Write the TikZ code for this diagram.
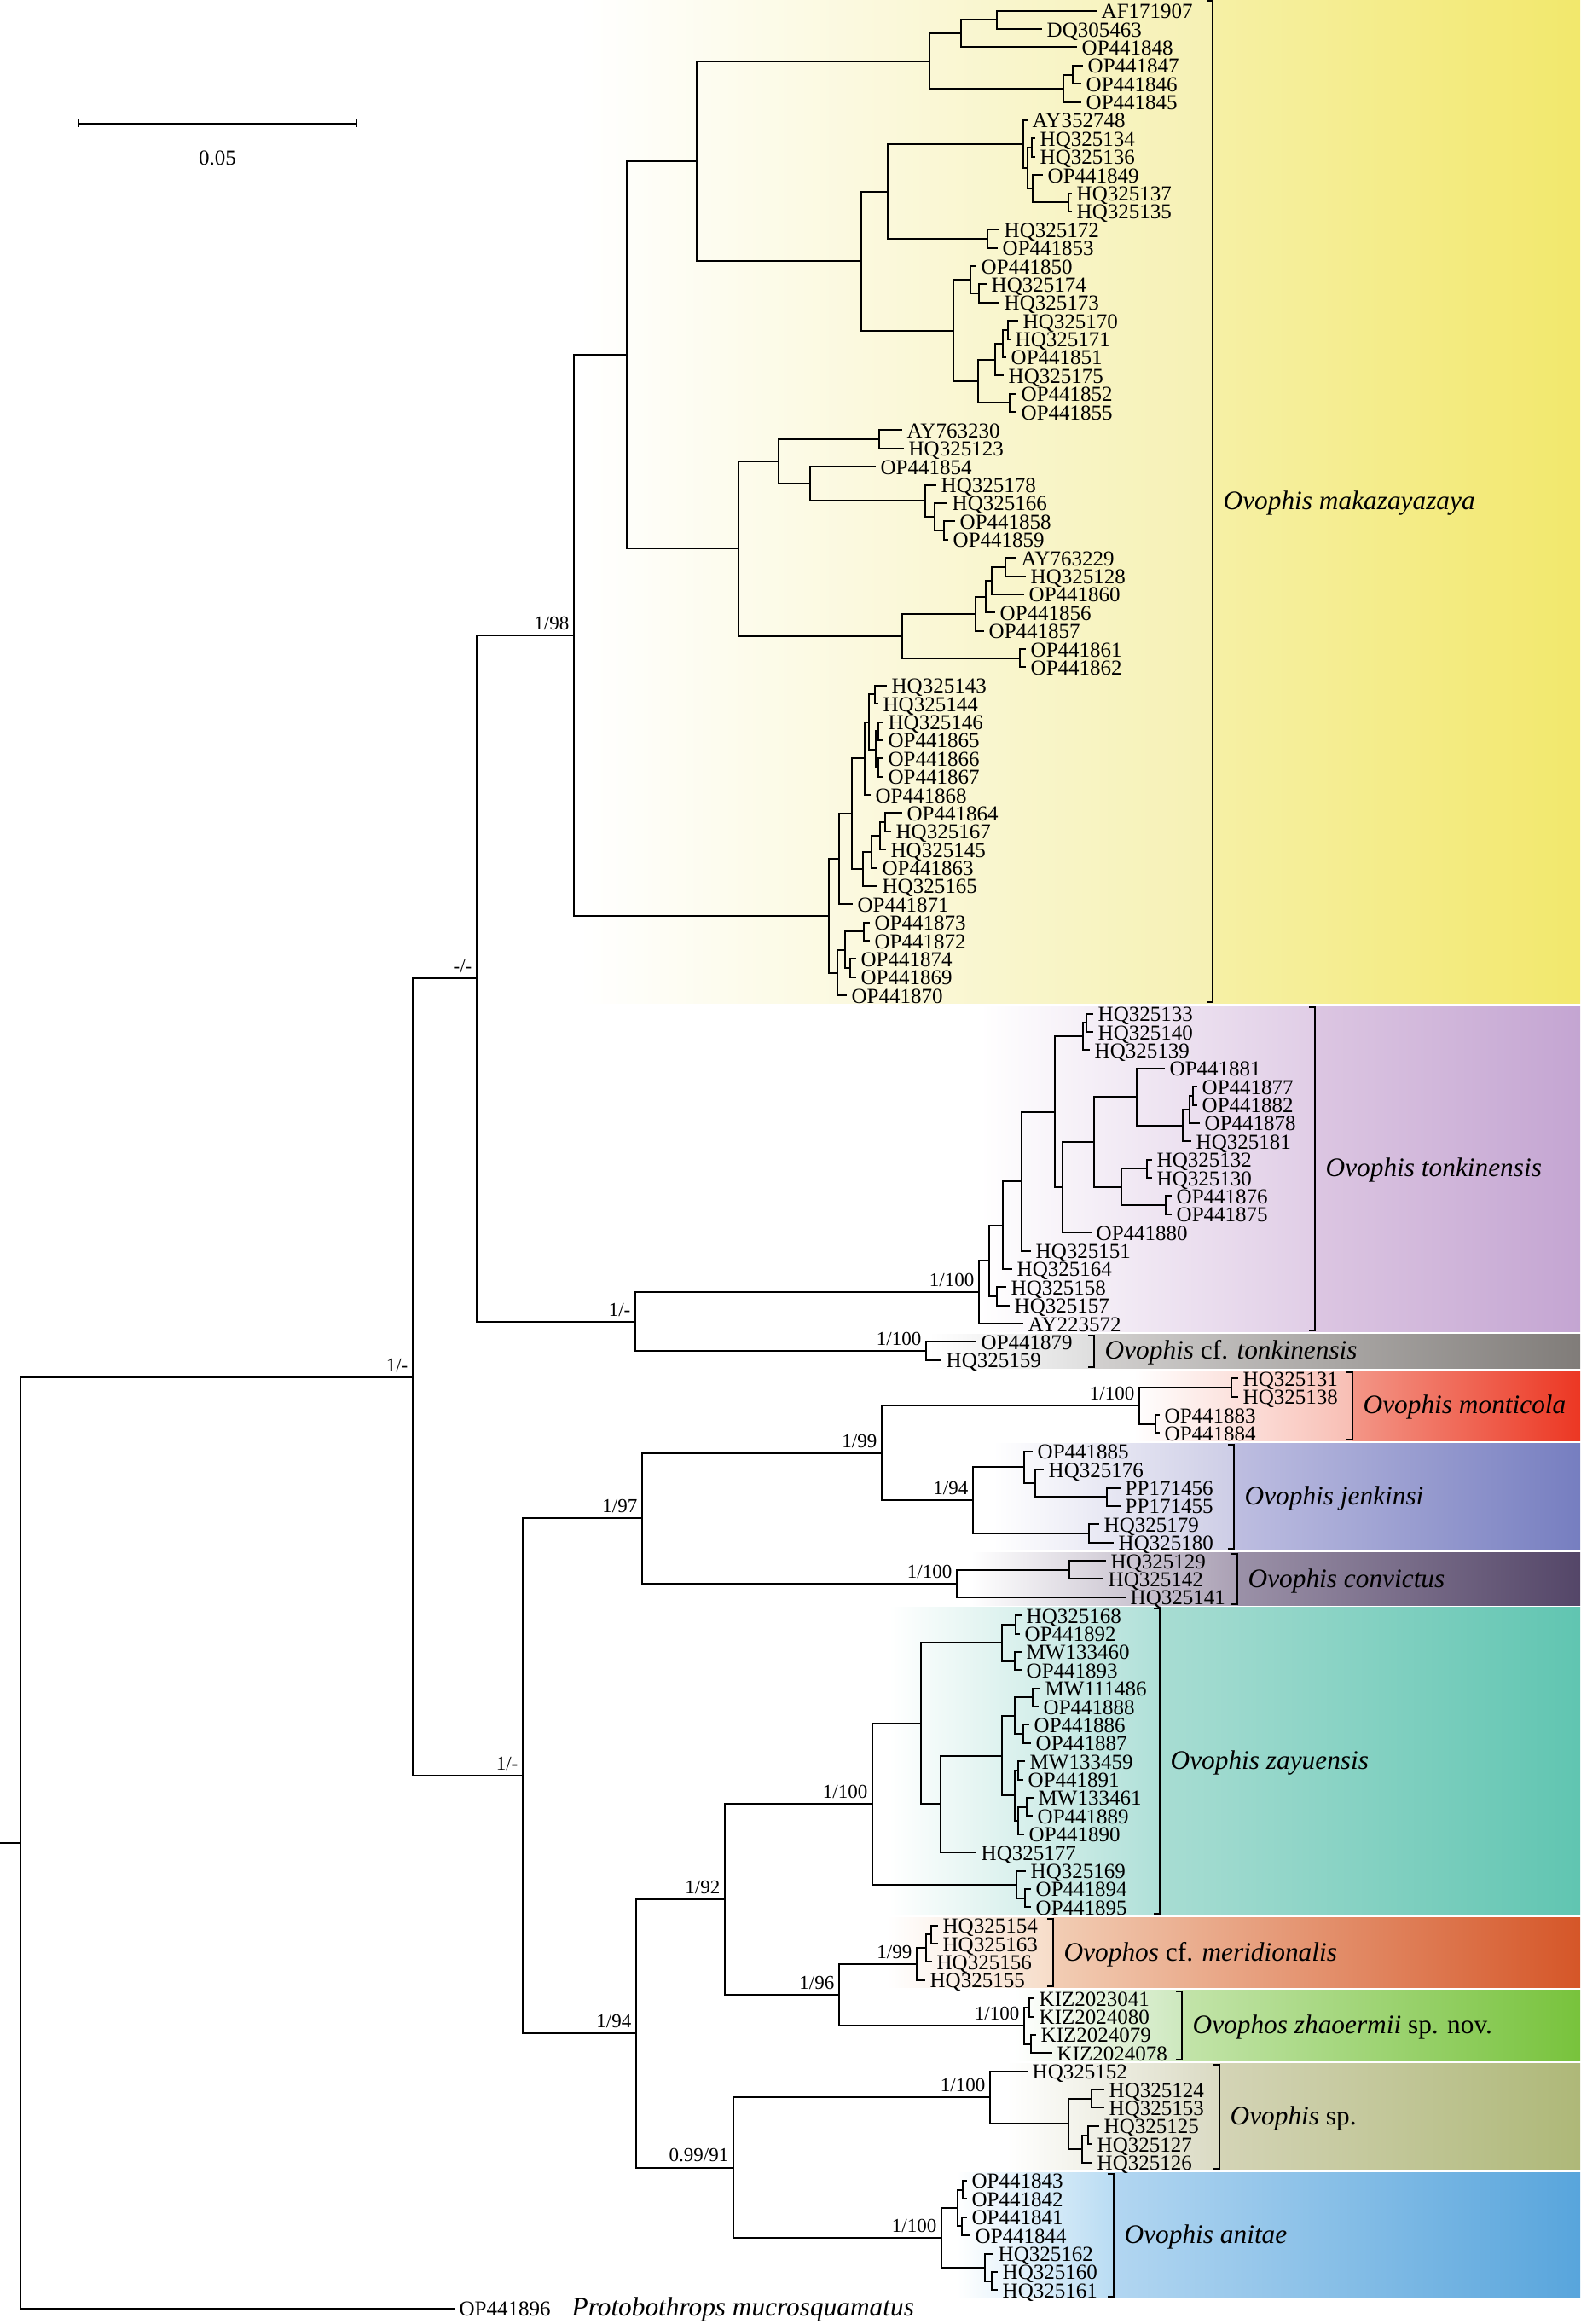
\documentclass[tikz,border=0pt]{standalone}
\usepackage{fontspec}
\setmainfont{Liberation Serif}
\definecolor{yelA}{RGB}{246,241,180}\definecolor{yelB}{RGB}{246,240,165}\definecolor{yelC}{RGB}{242,232,108}
\definecolor{purA}{RGB}{224,205,230}\definecolor{purB}{RGB}{220,198,226}\definecolor{purC}{RGB}{196,165,210}
\definecolor{gryA}{RGB}{222,222,222}\definecolor{gryB}{RGB}{210,208,207}\definecolor{gryC}{RGB}{128,124,121}
\definecolor{redA}{RGB}{248,190,180}\definecolor{redB}{RGB}{243,150,135}\definecolor{redC}{RGB}{236,55,35}
\definecolor{jenA}{RGB}{205,205,230}\definecolor{jenB}{RGB}{190,190,225}\definecolor{jenC}{RGB}{118,126,192}
\definecolor{cvA}{RGB}{170,160,180}\definecolor{cvB}{RGB}{155,145,168}\definecolor{cvC}{RGB}{84,70,104}
\definecolor{zaA}{RGB}{175,224,216}\definecolor{zaB}{RGB}{168,221,211}\definecolor{zaC}{RGB}{96,197,177}
\definecolor{meA}{RGB}{246,220,200}\definecolor{meB}{RGB}{242,205,180}\definecolor{meC}{RGB}{213,86,40}
\definecolor{zhA}{RGB}{205,232,190}\definecolor{zhB}{RGB}{195,228,170}\definecolor{zhC}{RGB}{120,195,60}
\definecolor{spA}{RGB}{218,218,195}\definecolor{spB}{RGB}{212,212,182}\definecolor{spC}{RGB}{174,184,120}
\definecolor{anA}{RGB}{185,220,243}\definecolor{anB}{RGB}{178,214,241}\definecolor{anC}{RGB}{88,165,220}
\newcommand\Tp[3]{\coordinate (t#1) at (#2,#1); \node[tl] (l#1) at (t#1) {#3};}
\newcommand\Nd[3]{\coordinate (#1) at (#2,#3);}
\newcommand\Br[2]{\foreach \kid in {#2}{\draw[br] (#1) |- (\kid);}}
\newcommand\Sp[2]{\node[sup] (s#1) at (#1) {#2};}
\newcommand\Band[9]{%
  \shade[left color=white, right color=#5] (#1,{#3+0.07}) rectangle (#2,{#4-0.07});
  \shade[left color=#6, right color=#7] (#2,{#3+0.07}) rectangle (1853,{#4-0.07});
  \draw[br] ({#2-7},{#3+0.14}) -- (#2,{#3+0.14}) -- (#2,{#4-0.14}) -- ({#2-7},{#4-0.14});
  \node[cl] (c#9) at ({#2+12},{(#3+#4)/2+0.45}) {#8};}
\begin{document}
\begin{tikzpicture}[x=0.3pt,y=-6.414pt,
  br/.style={line width=0.6pt},
  tl/.style={anchor=base west, inner sep=0pt, xshift=1.5pt, yshift=-2.7pt, font=\fontsize{7.5}{9}\selectfont},
  sup/.style={anchor=base east, inner sep=0pt, xshift=-1.5pt, yshift=2pt, font=\fontsize{6.9}{8}\selectfont},
  cl/.style={anchor=base west, inner sep=0pt, font=\fontsize{9.4}{11}\selectfont}]
\useasboundingbox (0,0.406) rectangle (1853,127.86);
% ---------- coloured bands ----------
\Band{680}{1422}{0.3}{55.5}{yelA}{yelB}{yelC}{\itshape Ovophis makazayazaya}{1}
\Band{1150}{1542}{55.5}{73.5}{purA}{purB}{purC}{\itshape Ovophis tonkinensis}{2}
\Band{1090}{1283}{73.5}{75.5}{gryA}{gryB}{gryC}{\textit{Ovophis} cf. \textit{tonkinensis}}{3}
\Band{1330}{1586}{75.5}{79.5}{redA}{redB}{redC}{\itshape Ovophis monticola}{4}
\Band{1165}{1447}{79.5}{85.5}{jenA}{jenB}{jenC}{\itshape Ovophis jenkinsi}{5}
\Band{1139}{1451}{85.5}{88.5}{cvA}{cvB}{cvC}{\itshape Ovophis convictus}{6}
\Band{1043}{1360}{88.5}{105.5}{zaA}{zaB}{zaC}{\itshape Ovophis zayuensis}{7}
\Band{1040}{1235}{105.5}{109.5}{meA}{meB}{meC}{\textit{Ovophos} cf. \textit{meridionalis}}{8}
\Band{1190}{1386}{109.5}{113.5}{zhA}{zhB}{zhC}{\textit{Ovophos zhaoermii} sp. nov.}{9}
\Band{1180}{1430}{113.5}{119.5}{spA}{spB}{spC}{\textit{Ovophis} sp.}{10}
\Band{1122}{1306}{119.5}{126.5}{anA}{anB}{anC}{\itshape Ovophis anitae}{11}
% ---------- scale bar ----------
\coordinate (sb1) at (92,7.17); \coordinate (sb2) at (418,7.17);
\draw[br] (sb1) -- (sb2);
\draw[br] ([yshift=-1.3pt]sb1) -- ([yshift=1.3pt]sb1);
\draw[br] ([yshift=-1.3pt]sb2) -- ([yshift=1.3pt]sb2);
\node[font=\fontsize{7.5}{9}\selectfont, inner sep=0pt] (sbl) at (255,9.06) {0.05};
% ---------- tips ----------
\Tp{1}{1286}{AF171907}\Tp{2}{1222}{DQ305463}\Tp{3}{1263}{OP441848}\Tp{4}{1270}{OP441847}
\Tp{5}{1268}{OP441846}\Tp{6}{1268}{OP441845}\Tp{7}{1205}{AY352748}\Tp{8}{1214}{HQ325134}
\Tp{9}{1214}{HQ325136}\Tp{10}{1223}{OP441849}\Tp{11}{1257}{HQ325137}\Tp{12}{1257}{HQ325135}
\Tp{13}{1172}{HQ325172}\Tp{14}{1170}{OP441853}\Tp{15}{1145}{OP441850}\Tp{16}{1157}{HQ325174}
\Tp{17}{1172}{HQ325173}\Tp{18}{1194}{HQ325170}\Tp{19}{1185}{HQ325171}\Tp{20}{1180}{OP441851}
\Tp{21}{1177}{HQ325175}\Tp{22}{1192}{OP441852}\Tp{23}{1192}{OP441855}\Tp{24}{1058}{AY763230}
\Tp{25}{1060}{HQ325123}\Tp{26}{1027}{OP441854}\Tp{27}{1098}{HQ325178}\Tp{28}{1111}{HQ325166}
\Tp{29}{1120}{OP441858}\Tp{30}{1112}{OP441859}\Tp{31}{1192}{AY763229}\Tp{32}{1203}{HQ325128}
\Tp{33}{1201}{OP441860}\Tp{34}{1167}{OP441856}\Tp{35}{1154}{OP441857}\Tp{36}{1203}{OP441861}
\Tp{37}{1203}{OP441862}\Tp{38}{1040}{HQ325143}\Tp{39}{1030}{HQ325144}\Tp{40}{1036}{HQ325146}
\Tp{41}{1036}{OP441865}\Tp{42}{1036}{OP441866}\Tp{43}{1036}{OP441867}\Tp{44}{1021}{OP441868}
\Tp{45}{1058}{OP441864}\Tp{46}{1045}{HQ325167}\Tp{47}{1039}{HQ325145}\Tp{48}{1029}{OP441863}
\Tp{49}{1029}{HQ325165}\Tp{50}{1000}{OP441871}\Tp{51}{1020}{OP441873}\Tp{52}{1020}{OP441872}
\Tp{53}{1004}{OP441874}\Tp{54}{1004}{OP441869}\Tp{55}{993}{OP441870}
\Tp{56}{1282}{HQ325133}\Tp{57}{1282}{HQ325140}\Tp{58}{1278}{HQ325139}\Tp{59}{1366}{OP441881}
\Tp{60}{1404}{OP441877}\Tp{61}{1404}{OP441882}\Tp{62}{1407}{OP441878}\Tp{63}{1397}{HQ325181}
\Tp{64}{1351}{HQ325132}\Tp{65}{1351}{HQ325130}\Tp{66}{1374}{OP441876}\Tp{67}{1374}{OP441875}
\Tp{68}{1280}{OP441880}\Tp{69}{1209}{HQ325151}\Tp{70}{1187}{HQ325164}\Tp{71}{1180}{HQ325158}
\Tp{72}{1184}{HQ325157}\Tp{73}{1200}{AY223572}
\Tp{74}{1145}{OP441879}\Tp{75}{1104}{HQ325159}
\Tp{76}{1452}{HQ325131}\Tp{77}{1452}{HQ325138}\Tp{78}{1360}{OP441883}\Tp{79}{1360}{OP441884}
\Tp{80}{1211}{OP441885}\Tp{81}{1224}{HQ325176}\Tp{82}{1314}{PP171456}\Tp{83}{1314}{PP171455}
\Tp{84}{1289}{HQ325179}\Tp{85}{1306}{HQ325180}
\Tp{86}{1297}{HQ325129}\Tp{87}{1294}{HQ325142}\Tp{88}{1320}{HQ325141}
\Tp{89}{1198}{HQ325168}\Tp{90}{1196}{OP441892}\Tp{91}{1198}{MW133460}\Tp{92}{1198}{OP441893}
\Tp{93}{1220}{MW111486}\Tp{94}{1218}{OP441888}\Tp{95}{1207}{OP441886}\Tp{96}{1209}{OP441887}
\Tp{97}{1202}{MW133459}\Tp{98}{1200}{OP441891}\Tp{99}{1212}{MW133461}\Tp{100}{1211}{OP441889}
\Tp{101}{1201}{OP441890}\Tp{102}{1145}{HQ325177}\Tp{103}{1203}{HQ325169}\Tp{104}{1209}{OP441894}
\Tp{105}{1209}{OP441895}
\Tp{106}{1100}{HQ325154}\Tp{107}{1100}{HQ325163}\Tp{108}{1093}{HQ325156}\Tp{109}{1085}{HQ325155}
\Tp{110}{1213}{KIZ2023041}\Tp{111}{1213}{KIZ2024080}\Tp{112}{1215}{KIZ2024079}\Tp{113}{1234}{KIZ2024078}
\Tp{114}{1205}{HQ325152}\Tp{115}{1295}{HQ325124}\Tp{116}{1295}{HQ325153}\Tp{117}{1289}{HQ325125}
\Tp{118}{1281}{HQ325127}\Tp{119}{1281}{HQ325126}
\Tp{120}{1134}{OP441843}\Tp{121}{1134}{OP441842}\Tp{122}{1134}{OP441841}\Tp{123}{1138}{OP441844}
\Tp{124}{1165}{HQ325162}\Tp{125}{1170}{HQ325160}\Tp{126}{1170}{HQ325161}
\Tp{127}{533}{OP441896}
\node[tl, font=\fontsize{9.4}{11}\selectfont\itshape, xshift=0pt] (proto) at (665,127) {Protobothrops mucrosquamatus};
% ---------- internal nodes ----------
\Nd{R0}{0}{101.47}\Nd{R}{24}{101.47}\Nd{A1}{484}{75.93}\Nd{B1}{559}{54.07}\Nd{C1}{673}{35.25}
\Nd{M}{735}{19.87}\Nd{N1}{817}{9.235}
\Nd{a}{1090}{3.75}\Nd{a1}{1127}{2.25}\Nd{a11}{1169}{1.5}\Nd{a2}{1247}{5.25}\Nd{a21}{1258}{4.5}
\Nd{b}{1010}{14.72}\Nd{b1}{1041}{10.906}\Nd{b1a}{1200}{8.3125}\Nd{b1a2}{1205}{9.625}
\Nd{b89}{1210}{8.5}\Nd{b10}{1211}{10.75}\Nd{b1112}{1253}{11.5}\Nd{b1b}{1158}{13.5}
\Nd{b2}{1118}{18.53}\Nd{b2a}{1138}{15.75}\Nd{b1617}{1148}{16.5}\Nd{b2b}{1147}{21.3125}
\Nd{b2b1}{1167}{20.125}\Nd{b1820}{1176}{19.25}\Nd{b1819}{1182}{18.5}\Nd{b2223}{1184}{22.5}
\Nd{N2}{866}{30.5}\Nd{N2a}{913}{25.72}\Nd{c2425}{1031}{24.5}\Nd{N2a2}{950}{26.94}
\Nd{c2730}{1085}{27.875}\Nd{c2830}{1096}{28.75}\Nd{c2930}{1107}{29.5}
\Nd{N2b}{1058}{35.28}\Nd{c3135}{1144}{34.06}\Nd{c3134}{1156}{33.125}\Nd{c3133}{1163}{32.25}
\Nd{c3132}{1179}{31.5}\Nd{c3637}{1196}{36.5}
\Nd{N3}{972}{50.63}\Nd{N3a}{984}{47.52}\Nd{N3b}{999}{45.03}\Nd{N3c}{1014}{42}\Nd{N3d}{1019}{40}
\Nd{d3839}{1026}{38.5}\Nd{d4043}{1027}{41.5}\Nd{d4041}{1030}{40.5}\Nd{d4243}{1030}{42.5}
\Nd{N3e}{1012}{48.06}\Nd{e4548}{1022}{47.125}\Nd{e4547}{1032}{46.25}\Nd{e4546}{1038}{45.5}
\Nd{N3f}{982}{53.75}\Nd{N3g}{991}{52.5}\Nd{f5152}{1013}{51.5}\Nd{f5354}{997}{53.5}
\Nd{C2}{745}{72.89}\Nd{T0}{1148}{71.27}\Nd{T1}{1160}{69.55}\Nd{g7172}{1169}{71.5}
\Nd{T2}{1176}{67.6}\Nd{T3}{1198}{65.19}\Nd{T4}{1237}{61.38}\Nd{g5658}{1270}{57.25}
\Nd{g5657}{1274}{56.5}\Nd{T5}{1246}{65.52}\Nd{T6}{1283}{63.03}\Nd{T7}{1333}{60.56}
\Nd{g6063}{1387}{62.125}\Nd{g6062}{1395}{61.25}\Nd{g6061}{1399}{60.5}
\Nd{T8}{1315}{65.5}\Nd{g6465}{1345}{64.5}\Nd{g6667}{1367}{66.5}\Nd{cf}{1086}{74.5}
\Nd{L1}{613}{97.8}\Nd{P97}{753}{83.67}\Nd{P99}{1034}{80.09}
\Nd{mo}{1336}{77.5}\Nd{h7677}{1444}{76.5}\Nd{h7879}{1355}{78.5}
\Nd{je}{1141}{82.69}\Nd{j8083}{1201}{80.875}\Nd{j8183}{1214}{81.75}\Nd{j8283}{1298}{82.5}\Nd{j8485}{1277}{84.5}
\Nd{cv}{1122}{87.25}\Nd{k8687}{1254}{86.5}
\Nd{P94}{746}{111.93}\Nd{P92}{850}{104.57}
\Nd{zy}{1023}{99.33}\Nd{Z1}{1080}{94.92}\Nd{z8992}{1175}{90.5}\Nd{z8990}{1191}{89.5}\Nd{z9192}{1190}{91.5}
\Nd{Z2}{1103}{99.34}\Nd{Z3}{1175}{96.69}\Nd{z9396}{1190}{94.5}\Nd{z9394}{1211}{93.5}\Nd{z9596}{1200}{95.5}
\Nd{z97101}{1190}{98.875}\Nd{z9798}{1194}{97.5}\Nd{z99101}{1194}{100.25}\Nd{z99100}{1204}{99.5}
\Nd{z103}{1192}{103.75}\Nd{z104105}{1202}{104.5}
\Nd{P96}{984}{109.81}\Nd{me}{1075}{108.125}\Nd{m106108}{1086}{107.25}\Nd{m106107}{1092}{106.5}
\Nd{zh}{1201}{111.5}\Nd{n110111}{1207}{110.5}\Nd{n112113}{1209}{112.5}
\Nd{P9991}{860}{119.28}\Nd{sp}{1161}{115.44}\Nd{s115119}{1253}{116.875}\Nd{s115116}{1280}{115.5}
\Nd{s117119}{1269}{118.25}\Nd{s117118}{1276}{117.5}
\Nd{an}{1104}{123.125}\Nd{a120123}{1123}{121.5}\Nd{a120121}{1129}{120.5}\Nd{a122123}{1128}{122.5}
\Nd{a124126}{1155}{124.75}\Nd{a125126}{1163}{125.5}
% ---------- branches ----------
\draw[br] (R0) -- (R);
\Br{R}{A1,t127}\Br{A1}{B1,L1}\Br{B1}{C1,C2}\Br{C1}{M,N3}\Br{M}{N1,N2}\Br{N1}{a,b}
\Br{a}{a1,a2}\Br{a1}{a11,t3}\Br{a11}{t1,t2}\Br{a2}{a21,t6}\Br{a21}{t4,t5}
\Br{b}{b1,b2}\Br{b1}{b1a,b1b}\Br{b1a}{t7,b1a2}\Br{b1a2}{b89,b10}\Br{b89}{t8,t9}\Br{b10}{t10,b1112}
\Br{b1112}{t11,t12}\Br{b1b}{t13,t14}\Br{b2}{b2a,b2b}\Br{b2a}{t15,b1617}\Br{b1617}{t16,t17}
\Br{b2b}{b2b1,b2223}\Br{b2b1}{b1820,t21}\Br{b1820}{b1819,t20}\Br{b1819}{t18,t19}\Br{b2223}{t22,t23}
\Br{N2}{N2a,N2b}\Br{N2a}{c2425,N2a2}\Br{c2425}{t24,t25}\Br{N2a2}{t26,c2730}\Br{c2730}{t27,c2830}
\Br{c2830}{t28,c2930}\Br{c2930}{t29,t30}\Br{N2b}{c3135,c3637}\Br{c3135}{c3134,t35}\Br{c3134}{c3133,t34}
\Br{c3133}{c3132,t33}\Br{c3132}{t31,t32}\Br{c3637}{t36,t37}
\Br{N3}{N3a,N3f}\Br{N3a}{N3b,t50}\Br{N3b}{N3c,N3e}\Br{N3c}{N3d,t44}\Br{N3d}{d3839,d4043}
\Br{d3839}{t38,t39}\Br{d4043}{d4041,d4243}\Br{d4041}{t40,t41}\Br{d4243}{t42,t43}
\Br{N3e}{e4548,t49}\Br{e4548}{e4547,t48}\Br{e4547}{e4546,t47}\Br{e4546}{t45,t46}
\Br{N3f}{N3g,t55}\Br{N3g}{f5152,f5354}\Br{f5152}{t51,t52}\Br{f5354}{t53,t54}
\Br{C2}{T0,cf}\Br{T0}{T1,t73}\Br{T1}{T2,g7172}\Br{g7172}{t71,t72}\Br{T2}{T3,t70}\Br{T3}{T4,t69}
\Br{T4}{g5658,T5}\Br{g5658}{g5657,t58}\Br{g5657}{t56,t57}\Br{T5}{T6,t68}\Br{T6}{T7,T8}
\Br{T7}{t59,g6063}\Br{g6063}{g6062,t63}\Br{g6062}{g6061,t62}\Br{g6061}{t60,t61}
\Br{T8}{g6465,g6667}\Br{g6465}{t64,t65}\Br{g6667}{t66,t67}\Br{cf}{t74,t75}
\Br{L1}{P97,P94}\Br{P97}{P99,cv}\Br{P99}{mo,je}\Br{mo}{h7677,h7879}\Br{h7677}{t76,t77}\Br{h7879}{t78,t79}
\Br{je}{j8083,j8485}\Br{j8083}{t80,j8183}\Br{j8183}{t81,j8283}\Br{j8283}{t82,t83}\Br{j8485}{t84,t85}
\Br{cv}{k8687,t88}\Br{k8687}{t86,t87}
\Br{P94}{P92,P9991}\Br{P92}{zy,P96}\Br{zy}{Z1,z103}\Br{Z1}{z8992,Z2}\Br{z8992}{z8990,z9192}
\Br{z8990}{t89,t90}\Br{z9192}{t91,t92}\Br{Z2}{Z3,t102}\Br{Z3}{z9396,z97101}\Br{z9396}{z9394,z9596}
\Br{z9394}{t93,t94}\Br{z9596}{t95,t96}\Br{z97101}{z9798,z99101}\Br{z9798}{t97,t98}
\Br{z99101}{z99100,t101}\Br{z99100}{t99,t100}\Br{z103}{t103,z104105}\Br{z104105}{t104,t105}
\Br{P96}{me,zh}\Br{me}{m106108,t109}\Br{m106108}{m106107,t108}\Br{m106107}{t106,t107}
\Br{zh}{n110111,n112113}\Br{n110111}{t110,t111}\Br{n112113}{t112,t113}
\Br{P9991}{sp,an}\Br{sp}{t114,s115119}\Br{s115119}{s115116,s117119}\Br{s115116}{t115,t116}
\Br{s117119}{s117118,t119}\Br{s117118}{t117,t118}
\Br{an}{a120123,a124126}\Br{a120123}{a120121,a122123}\Br{a120121}{t120,t121}\Br{a122123}{t122,t123}
\Br{a124126}{t124,a125126}\Br{a125126}{t125,t126}
% ---------- support values ----------
\Sp{A1}{1/-}\Sp{B1}{-/-}\Sp{C1}{1/98}\Sp{C2}{1/-}\Sp{T0}{1/100}\Sp{cf}{1/100}
\Sp{L1}{1/-}\Sp{P97}{1/97}\Sp{P99}{1/99}\Sp{mo}{1/100}\Sp{je}{1/94}\Sp{cv}{1/100}
\Sp{P94}{1/94}\Sp{P92}{1/92}\Sp{zy}{1/100}\Sp{P96}{1/96}\Sp{me}{1/99}\Sp{zh}{1/100}
\Sp{P9991}{0.99/91}\Sp{sp}{1/100}\Sp{an}{1/100}
\end{tikzpicture}
\end{document}
